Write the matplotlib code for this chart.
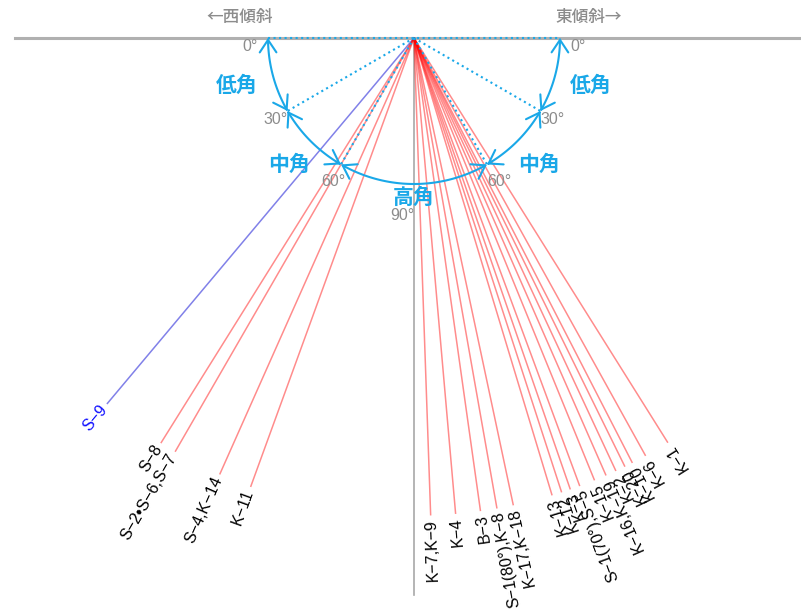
import matplotlib.pyplot as plt
import numpy as np
from matplotlib.patches import FancyArrowPatch
from matplotlib.path import Path

# dip angles (degrees from horizontal) and sample names
west_angles = [50, 58, 60, 66, 70]
west_labels = ['S−9', 'S−8', 'S−2•S−6,S−7', 'S−4,K−14', 'K−11']
west_colors = ['#7373e6', 'red', 'red', 'red', 'red']
west_text_colors = ['#1010ff', 'black', 'black', 'black', 'black']

east_angles = [88, 85, 82, 80, 78,
               73.2, 72, 70.9, 69.7, 67.8, 66.3, 65, 63.8, 62.8, 61, 57.9]
east_labels = ['K−7,K−9', 'K−4', 'B−3', 'S−1(80°),K−8', 'K−17,K−18',
               'K−13', 'K−12', 'K−3', 'S−1(70°),S−5', 'K−15',
               'K−16,K−19', 'K−2', 'K−20', 'K−10', 'K−6', 'K−1']

# class names
class_names = ['低角', '中角', '高角']

L = 477      # line length
R = 146      # arc radius
cyan = '#1aa8e8'
gray = '#8c8c8c'
jp = ['Noto Sans CJK JP', 'DejaVu Sans']
lab_font = ['Liberation Sans', 'DejaVu Sans']
deg_font = ['Liberation Sans Narrow', 'Liberation Sans', 'DejaVu Sans']


def pt(theta, r, side):
    t = np.radians(theta)
    return side * r * np.cos(t), -r * np.sin(t)


fig = plt.figure(figsize=(8.01, 6.11), dpi=100)
ax = fig.add_axes([0, 0, 1, 1])
ax.set_xlim(-414, 387)
ax.set_ylim(-573, 38)
ax.axis('off')

# reference lines
ax.plot([-399, 387], [0, 0], color='#b0b0b0', lw=2.2, zorder=1)
ax.plot([0, 0], [0, -557], color='#a8a8a8', lw=1.2, zorder=1)


def draw_dip(theta, side, label, color='red', tcolor='black'):
    x, y = pt(theta, L, side)
    alpha = 0.45 if color == 'red' else 0.9
    ax.plot([0, x], [0, y], color=color, lw=1.1, alpha=alpha, zorder=2)
    gx, gy = pt(theta, L + 4, side)
    rot = theta if side < 0 else 180 - theta
    ax.text(gx, gy, label, rotation=rot, rotation_mode='anchor',
            ha='right', va='center', fontsize=11.5, color=tcolor, family=lab_font)


for a, lab, c, tc in zip(west_angles, west_labels, west_colors, west_text_colors):
    draw_dip(a, -1, lab, c, tc)
for a, lab in zip(east_angles, east_labels):
    draw_dip(a, 1, lab)

# dotted guides
ax.plot([-R, R], [0, 0], color=cyan, ls=':', lw=1.5, zorder=3)
for side in (-1, 1):
    for b in (30, 60):
        x, y = pt(b, R, side)
        ax.plot([0, x], [0, y], color=cyan, ls=':', lw=1.5, zorder=3)


def arc(t0, t1):
    # polar angles in y-up coordinates
    tt = np.radians(np.linspace(t0, t1, 60))
    verts = np.column_stack([R * np.cos(tt), R * np.sin(tt)])
    p = FancyArrowPatch(path=Path(verts), arrowstyle='<->,head_length=0.45,head_width=0.3',
                        mutation_scale=20, color=cyan, lw=1.5, zorder=4)
    ax.add_patch(p)


for t0, t1 in [(180, 210), (210, 240), (240, 300), (300, 330), (330, 360)]:
    arc(t0, t1)

# class labels
for side in (-1, 1):
    x, y = pt(15, R + 37, side)
    ax.text(x, y, class_names[0], color=cyan, fontsize=15, fontweight='bold',
            family=jp, ha='center', va='center')
    x, y = pt(45, R + 35, side)
    ax.text(x - side * 3, y + 2, class_names[1], color=cyan, fontsize=15, fontweight='bold',
            family=jp, ha='center', va='center')
ax.text(0, -159, class_names[2], color=cyan, fontsize=15, fontweight='bold',
        family=jp, ha='center', va='center')

# degree labels
for side in (-1, 1):
    x, y = pt(3, R + 18, side)
    ax.text(x, y, '0°', color=gray, fontsize=11.5, ha='center', va='center',
            family=deg_font)
    x, y = pt(30, R + 2, side)
    ax.text(x - side * 2, y - 8, '30°', color=gray, fontsize=11.5,
            ha='right' if side < 0 else 'left', va='center', family=deg_font)
    x, y = pt(60, R + 20, side)
    ax.text(x + 2, y, '60°', color=gray, fontsize=11.5, ha='center', va='center',
            family=deg_font)
ax.text(-12, -178, '90°', color=gray, fontsize=11.5, ha='center', va='center',
        family=deg_font)

ax.text(-174, 21, '←西傾斜', color=gray, fontsize=12, fontweight='medium',
        family=jp, ha='center', va='center')
ax.text(175, 21, '東傾斜→', color=gray, fontsize=12, fontweight='medium',
        family=jp, ha='center', va='center')

fig.savefig('out.png', dpi=100)
